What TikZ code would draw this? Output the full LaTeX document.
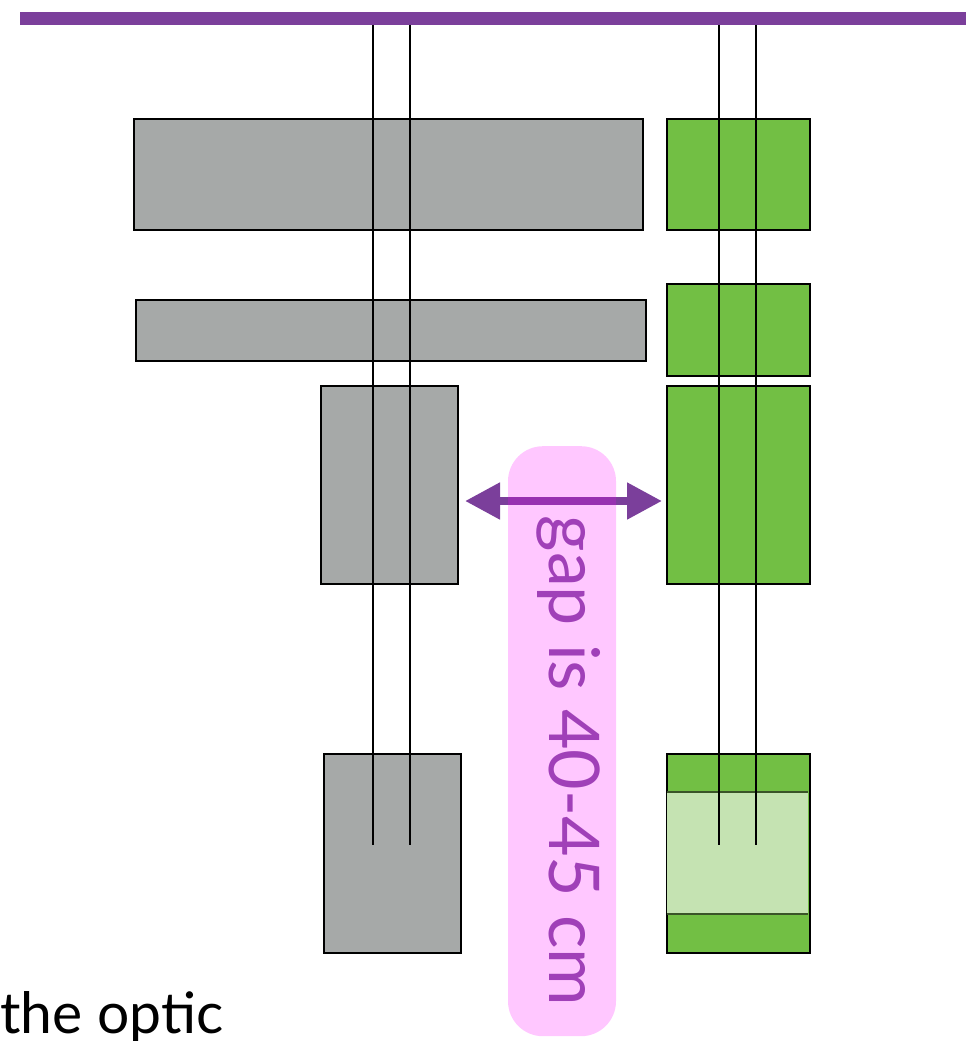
\documentclass[tikz,border=0pt]{standalone}
\usepackage{fontspec}
\setmainfont{Lato}
\usetikzlibrary{arrows.meta}
\definecolor{barpurple}{RGB}{123,63,155}
\definecolor{boxgray}{RGB}{166,169,168}
\definecolor{boxgreen}{RGB}{114,191,68}
\definecolor{lightgreen}{RGB}{197,227,178}
\definecolor{darkgreen}{RGB}{58,84,40}
\definecolor{pinkbase}{RGB}{255,0,255}
\definecolor{textpurple}{RGB}{160,64,184}
\begin{document}
\begin{tikzpicture}[x=1pt,y=-1pt,
  box/.style={draw=black,line width=2pt,inner sep=0pt,anchor=north west},
  graybox/.style={box,fill=boxgray},
  greenbox/.style={box,fill=boxgreen},
  wire/.style={draw=black,line width=2pt},
  gaparrow/.style={draw=barpurple,line width=8pt,{Triangle[length=35pt,width=35pt]}-{Triangle[length=35pt,width=35pt]}},
  label/.style={inner sep=0pt}
]
\useasboundingbox (0,0) rectangle (966,1041);
% top bar
\node[fill=barpurple,inner sep=0pt,anchor=north west,minimum width=946pt,minimum height=13pt] (bar) at (20,12) {};
% gray boxes
\node[graybox,minimum width=509pt,minimum height=111pt] (g1) at (133,118) {};
\node[graybox,minimum width=510pt,minimum height=61pt] (g2) at (135,299) {};
\node[graybox,minimum width=137pt,minimum height=198pt] (g3) at (320,385) {};
\node[graybox,minimum width=137pt,minimum height=199pt] (g4) at (323,753) {};
% green boxes
\node[greenbox,minimum width=143pt,minimum height=111pt] (r1) at (666,118) {};
\node[greenbox,minimum width=143pt,minimum height=92pt] (r2) at (666,283) {};
\node[greenbox,minimum width=143pt,minimum height=198pt] (r3) at (666,385) {};
\node[greenbox,minimum width=143pt,minimum height=199pt] (r4) at (666,753) {};
\fill[lightgreen] (667,792) rectangle (808,914);
\draw[darkgreen,line width=1.5pt] (667,792) -- (808,792) (667,914) -- (808,914);
% wires
\coordinate (a1) at (373,25); \coordinate (a2) at (373,845);
\coordinate (b1) at (410,25); \coordinate (b2) at (410,845);
\coordinate (c1) at (719,25); \coordinate (c2) at (719,845);
\coordinate (d1) at (756,25); \coordinate (d2) at (756,845);
\draw[wire] (a1) -- (a2);
\draw[wire] (b1) -- (b2);
\draw[wire] (c1) -- (c2);
\draw[wire] (d1) -- (d2);
% gap arrow
\draw[gaparrow,shorten <=6pt,shorten >=4pt] (g3.east |- 0,501) -- (r3.west |- 0,501);
% pink label box
\node[fill=pinkbase,fill opacity=0.22,rounded corners=35pt,inner sep=0pt,minimum width=108pt,minimum height=590pt,anchor=north] (pink) at (562,446) {};
\node[label,rotate=-90,text=textpurple,font=\fontsize{70}{70}\selectfont] (gaptext) at (569,761) {gap is 40-45 cm};
% caption
\node[label,anchor=base west,font=\fontsize{57}{57}\selectfont] (optic) at (0,1033) {the optic};
\end{tikzpicture}
\end{document}
